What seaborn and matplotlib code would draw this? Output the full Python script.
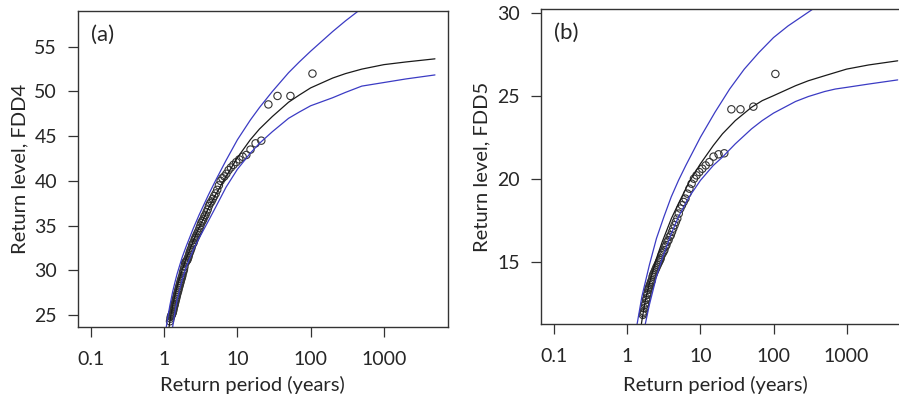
import numpy as np
import pandas as pd
import matplotlib
matplotlib.use("Agg")
import matplotlib.pyplot as plt
import seaborn as sns

# ---- panel (a): FDD4 ----
a_period = [106, 53, 35.3, 26.5, 21.2, 17.7, 15.1, 13.25, 11.8, 10.6,
            9.64, 8.83, 8.15, 7.57, 7.07, 6.63, 6.24, 5.89, 5.58, 5.3,
            5.05, 4.82, 4.61, 4.42, 4.24, 4.08, 3.93, 3.79, 3.66, 3.53,
            3.42, 3.31, 3.21, 3.12, 3.03, 2.94, 2.86, 2.79, 2.72, 2.65,
            2.59, 2.52, 2.47, 2.41, 2.36, 2.30, 2.26, 2.21, 2.16, 2.12,
            2.08, 2.04, 2.00, 1.96, 1.93, 1.89, 1.86, 1.83, 1.80, 1.77,
            1.74, 1.71, 1.68, 1.66, 1.63, 1.61, 1.58, 1.56, 1.54, 1.51,
            1.49, 1.47, 1.45, 1.43, 1.41, 1.39, 1.38, 1.36, 1.34, 1.33,
            1.31, 1.29, 1.28, 1.26, 1.25, 1.23, 1.22, 1.20]
a_level = [52.0, 49.5, 49.5, 48.55, 44.5, 44.2, 43.5, 42.9, 42.7, 42.4,
           42.1, 41.8, 41.5, 41.2, 40.8, 40.5, 40.3, 40.0, 39.5, 39.0,
           38.6, 38.3, 38.0, 37.7, 37.5, 37.2, 36.8, 36.5, 36.2, 36.0,
           35.7, 35.5, 35.3, 35.0, 34.7, 34.4, 34.2, 34.0, 33.8, 33.6,
           33.4, 33.1, 33.0, 32.8, 32.5, 32.3, 32.1, 31.9, 31.6, 31.4,
           31.2, 31.1, 31.0, 30.9, 30.8, 30.4, 30.1, 29.9, 29.7, 29.4,
           29.2, 29.0, 28.8, 28.6, 28.4, 28.2, 28.0, 27.8, 27.6, 27.4,
           27.2, 27.0, 26.8, 26.6, 26.4, 26.2, 26.1, 25.9, 25.7, 25.5,
           25.3, 25.2, 25.1, 25.0, 24.9, 24.8, 24.6, 24.3]

a_fit_T = [1.1, 1.15, 1.2, 1.3, 1.4, 1.5, 1.75, 2, 2.5, 3, 4, 5, 7, 10, 15,
           20, 30, 50, 70, 100, 200, 300, 500, 1000, 2000, 5000]
a_fit = [21.5, 23.3, 24.4, 26.0, 27.2, 28.2, 30.0, 31.3, 33.3, 34.8, 36.9,
         38.4, 40.5, 42.6, 44.6, 45.8, 47.2, 48.8, 49.6, 50.4, 51.5, 52.0,
         52.5, 53.0, 53.3, 53.65]

a_up_T = [1.05, 1.07, 1.1, 1.15, 1.2, 1.3, 1.4, 1.5, 1.75, 2, 2.5, 3, 4, 5,
          7, 10, 15, 20, 30, 50, 70, 100, 200, 300, 500, 1000]
a_up = [23.2, 23.7, 24.36, 25.3, 26.15, 27.55, 28.65, 29.6, 31.4, 32.7,
        34.7, 36.2, 38.4, 40.0, 42.3, 44.6, 46.8, 48.2, 50.0, 52.1, 53.3,
        54.5, 56.7, 57.9, 59.3, 61.0]

a_lo_T = [1.25, 1.3, 1.4, 1.5, 1.75, 2, 2.5, 3, 4, 5, 7, 10, 15, 20, 30, 50,
          70, 100, 200, 300, 500, 1000, 2000, 5000]
a_lo = [22.5, 23.6, 25.3, 26.7, 28.9, 30.4, 32.3, 33.6, 35.5, 37.0, 39.3,
        41.3, 43.1, 44.2, 45.5, 47.0, 47.7, 48.4, 49.3, 49.9, 50.6, 51.0,
        51.4, 51.85]

# ---- panel (b): FDD5 ----
b_period = [106, 53, 35.3, 26.5, 21.2, 17.7, 15.1, 13.25, 11.8, 10.6,
            9.64, 8.83, 8.15, 7.57, 7.07, 6.63, 6.24, 5.89, 5.58, 5.3,
            5.05, 4.82, 4.61, 4.42, 4.24, 4.08, 3.93, 3.79, 3.66, 3.53,
            3.42, 3.31, 3.21, 3.12, 3.03, 2.94, 2.86, 2.79, 2.72, 2.65,
            2.59, 2.52, 2.47, 2.41, 2.36, 2.30, 2.26, 2.21, 2.16, 2.12,
            2.08, 2.04, 2.00, 1.96, 1.93, 1.89, 1.86, 1.83, 1.80, 1.77,
            1.74, 1.71, 1.68, 1.66, 1.63]
b_level = [26.31, 24.34, 24.18, 24.18, 21.53, 21.47, 21.33, 21.0, 20.8, 20.6,
           20.4, 20.2, 20.0, 19.7, 19.4, 19.1, 18.8, 18.6, 18.4, 18.2,
           17.9, 17.6, 17.4, 17.2, 17.0, 16.8, 16.6, 16.5, 16.3, 16.2,
           16.0, 15.9, 15.7, 15.6, 15.5, 15.4, 15.2, 15.1, 15.0, 14.9,
           14.8, 14.7, 14.6, 14.5, 14.4, 14.3, 14.2, 14.1, 13.9, 13.8,
           13.7, 13.6, 13.5, 13.4, 13.3, 13.1, 13.0, 12.8, 12.7, 12.5,
           12.4, 12.2, 12.0, 11.9, 11.8]

b_fit_T = [1.5, 1.6, 1.75, 2, 2.5, 3, 4, 5, 7, 10, 15, 20, 30, 50, 70, 100,
           200, 300, 500, 1000, 2000, 5000]
b_fit = [10.8, 11.6, 12.6, 13.7, 15.2, 16.2, 17.6, 18.5, 19.8, 20.9, 22.0,
         22.7, 23.5, 24.3, 24.7, 25.0, 25.6, 25.9, 26.2, 26.6, 26.85, 27.1]

b_up_T = [1.26, 1.36, 1.58, 2, 2.5, 3.16, 3.98, 5.01, 6.31, 10, 15.8, 25.1,
          39.8, 63.1, 100, 158, 251, 398]
b_up = [10.2, 11.25, 12.9, 14.8, 16.4, 17.7, 18.9, 19.9, 20.8, 22.5, 24.0,
        25.4, 26.6, 27.6, 28.5, 29.2, 29.8, 30.4]

b_lo_T = [1.7, 1.76, 2, 2.5, 3, 4, 5, 7, 10, 15, 20, 30, 50, 70, 100, 200,
          300, 500, 700, 1000, 2000, 5000]
b_lo = [10.9, 11.25, 12.4, 14.1, 15.2, 16.7, 17.7, 18.9, 19.9, 20.8, 21.3,
        22.1, 23.0, 23.5, 23.95, 24.65, 24.95, 25.25, 25.4, 25.5, 25.7, 25.95]

xticks = [0.1, 1, 10, 100, 1000]
xticklabels = ['0.1', '1', '10', '100', '1000']

sns.set_style('ticks')
plt.rcParams['font.family'] = ['Lato', 'DejaVu Sans']

fig = plt.figure(figsize=(8.99, 3.99), dpi=100)
ax_a = fig.add_axes([78 / 899, 72 / 399, 370 / 899, 316 / 399])
ax_b = fig.add_axes([540.7 / 899, 75 / 399, 370 / 899, 315 / 399])

blue = '#3b3bc4'
panels = [
    (ax_a, a_period, a_level, a_fit_T, a_fit, a_up_T, a_up, a_lo_T, a_lo,
     (0.0664, 7534), (23.66, 59.0), [25, 30, 35, 40, 45, 50, 55],
     'Return level, FDD4', '(a)', -0.155),
    (ax_b, b_period, b_level, b_fit_T, b_fit, b_up_T, b_up, b_lo_T, b_lo,
     (0.0652, 7534), (11.25, 30.22), [15, 20, 25, 30],
     'Return level, FDD5', '(b)', -0.165),
]

for (ax, per, lev, fT, fv, uT, uv, lT, lv, xlim, ylim, yt, ylab, tag, xl_y) in panels:
    fit_df = pd.DataFrame({'T': fT, 'level': fv})
    up_df = pd.DataFrame({'T': uT, 'level': uv})
    lo_df = pd.DataFrame({'T': lT, 'level': lv})
    obs_df = pd.DataFrame({'T': per, 'level': lev})
    sns.lineplot(data=fit_df, x='T', y='level', ax=ax, color='#1a1a1a', lw=0.9)
    sns.lineplot(data=up_df, x='T', y='level', ax=ax, color=blue, lw=0.9)
    sns.lineplot(data=lo_df, x='T', y='level', ax=ax, color=blue, lw=0.9)
    sns.scatterplot(data=obs_df, x='T', y='level', ax=ax, marker='o', s=28,
                    facecolor='none', edgecolor='#333333', linewidth=0.8)
    ax.set_xscale('log')
    ax.set_xlim(*xlim)
    ax.set_ylim(*ylim)
    ax.set_xticks(xticks)
    ax.set_xticklabels(xticklabels)
    ax.minorticks_off()
    ax.set_yticks(yt)
    ax.set_yticklabels([str(v) for v in yt])
    ax.tick_params(axis='both', direction='out', length=7, width=0.9,
                   color='#333333', labelsize=14)
    ax.tick_params(axis='x', pad=10)
    ax.tick_params(axis='y', pad=8)
    for sp in ax.spines.values():
        sp.set_visible(True)
        sp.set_color('#333333')
        sp.set_linewidth(1.0)
    ax.set_xlabel('Return period (years)', fontsize=14.5)
    ax.set_ylabel(ylab, fontsize=14.5)
    ax.xaxis.set_label_coords(0.471, xl_y)
    ax.yaxis.set_label_coords(-0.135, 0.5)
    ax.text(0.036, 0.925, tag, transform=ax.transAxes, fontsize=16,
            ha='left', va='center')

fig.savefig('out.png', dpi=100)
